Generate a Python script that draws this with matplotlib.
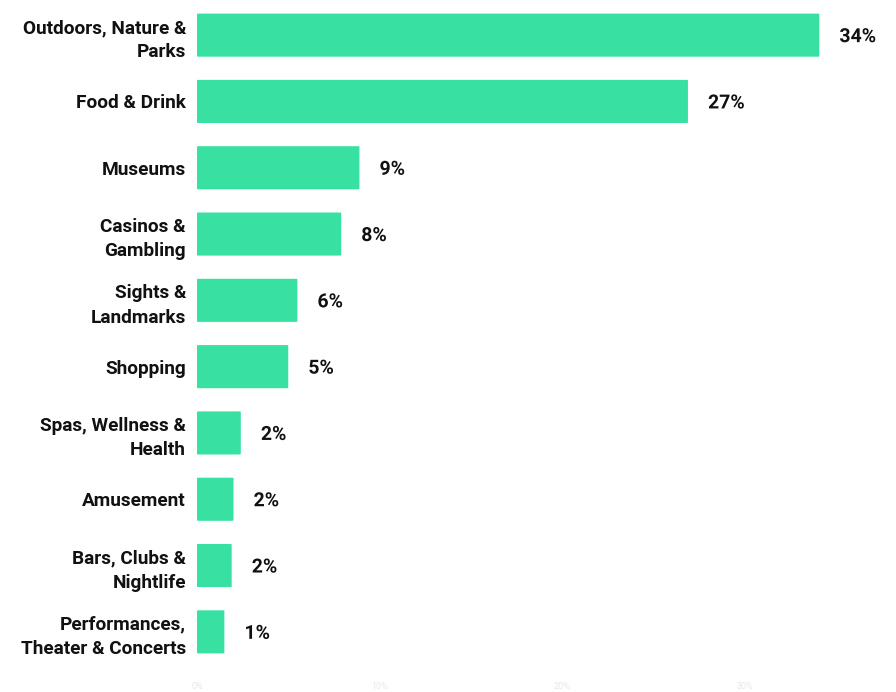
import matplotlib.pyplot as plt
import matplotlib.patheffects as pe
from matplotlib.patches import FancyBboxPatch

categorie = ["Outdoors, Nature &\nParks", "Food & Drink", "Museums", "Casinos &\nGambling",
             "Sights &\nLandmarks", "Shopping", "Spas, Wellness &\nHealth", "Amusement",
             "Bars, Clubs &\nNightlife", "Performances,\nTheater & Concerts"]
valori = [34.1, 26.9, 8.9, 7.9, 5.5, 5.0, 2.4, 2.0, 1.9, 1.5]
etichette = ["34%", "27%", "9%", "8%", "6%", "5%", "2%", "2%", "2%", "1%"]
tick_x = [0, 10, 20, 30]
tick_lab = ["0%", "10%", "20%", "30%"]

plt.rcParams["font.family"] = "Roboto"
fig = plt.figure(figsize=(8.96, 6.92), dpi=100)
ax = fig.add_axes([197 / 896, 27 / 692, 1 - 197 / 896, 663 / 692])

colore = "#38E0A2"
pos = list(range(len(valori)))
barre = ax.barh(pos, valori, height=0.65, color=colore)
# angoli leggermente arrotondati
for b in barre:
    b.set_visible(False)
    p = FancyBboxPatch((b.get_x(), b.get_y()), b.get_width(), b.get_height(),
                       boxstyle="round,pad=0,rounding_size=0.08", mutation_aspect=0.1,
                       fc=colore, ec="none")
    ax.add_patch(p)

for y, v, t in zip(pos, valori, etichette):
    ax.text(v + 1.1, y + 0.03, t, va="center", ha="left", fontsize=14, fontweight="bold",
            color="#111111", path_effects=[pe.withStroke(linewidth=3, foreground="white")])

ax.set_ylim(9.5, -0.5)
ax.set_xlim(0, 38.3)
ax.set_yticks(pos)
ax.set_yticklabels(categorie, fontsize=13.7, fontweight="bold", color="#111111",
                   linespacing=1.45)
ax.set_xticks(tick_x)
ax.set_xticklabels(tick_lab, fontsize=6.5, color="#E8E8E8")
ax.tick_params(length=0, axis="y", pad=8)
ax.tick_params(length=0, axis="x", pad=12)
for s in ax.spines.values():
    s.set_visible(False)

plt.savefig("out.png", dpi=100)
